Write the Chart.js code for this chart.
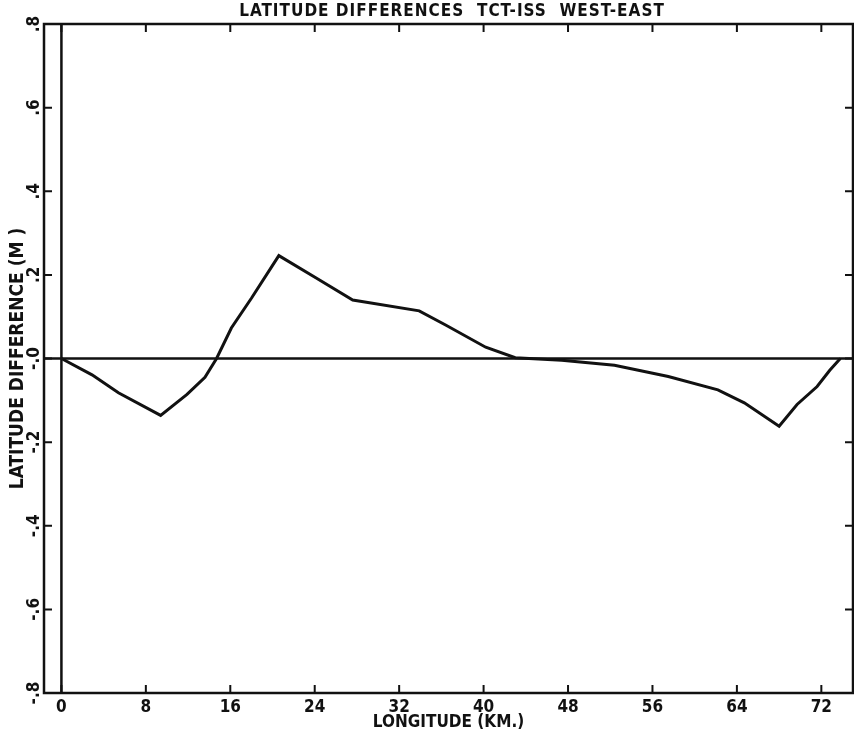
<!DOCTYPE html>
<html>
<head>
<meta charset="utf-8">
<script src="https://cdn.jsdelivr.net/npm/chart.js@4/dist/chart.umd.min.js"></script>
<style>
  html, body { margin: 0; padding: 0; background: #fff; }
  #wrap { width: 854px; height: 734px; }
</style>
</head>
<body>
<div id="wrap"><canvas id="canvas" width="854" height="734"></canvas></div>
<script>
const ctx = document.getElementById("canvas").getContext("2d");

// longitude (km) and latitude difference (m)
const longitude = [0, 2.9, 5.4, 9.4, 11.9, 13.6, 14.7, 16.1, 18.0, 20.6, 24.1, 27.6, 33.9, 36.4, 40.2, 43.0,
  47.4, 52.4, 57.5, 62.2, 64.7, 68.0, 69.7, 71.6, 72.8, 73.8];
const latDiff = [0, -0.039, -0.082, -0.136, -0.086, -0.045, 0, 0.073, 0.144, 0.246, 0.193, 0.140, 0.114, 0.080, 0.027, 0.002,
  -0.004, -0.016, -0.043, -0.075, -0.106, -0.162, -0.110, -0.067, -0.028, 0];

const xTicks = [0, 8, 16, 24, 32, 40, 48, 56, 64, 72];
const yTicks = [0.8, 0.6, 0.4, 0.2, 0, -0.2, -0.4, -0.6, -0.8];
const yTickLabels = [".8", ".6", ".4", ".2", "-.0", "-.2", "-.4", "-.6", "-.8"];

const titleText = "LATITUDE DIFFERENCES  TCT-ISS  WEST-EAST";
const xTitle = "LONGITUDE (KM.)";
const yTitle = "LATITUDE DIFFERENCE (M )";

const FONT = "'Liberation Sans Narrow', 'DejaVu Sans Condensed', sans-serif";
const INK = "#111";

// frame, inward tick marks, zero lines and title
const framePlugin = {
  id: "frame",
  afterDraw: (chart) => {
    const c = chart.ctx;
    const a = chart.chartArea;
    const xs = chart.scales.x;
    const ys = chart.scales.y;
    c.save();
    c.strokeStyle = INK;
    c.lineWidth = 2.5;
    c.strokeRect(a.left, a.top, a.right - a.left, a.bottom - a.top);

    // zero lines
    const x0 = xs.getPixelForValue(0);
    const y0 = ys.getPixelForValue(0);
    c.beginPath();
    c.moveTo(x0, a.top); c.lineTo(x0, a.bottom);
    c.moveTo(a.left, y0); c.lineTo(a.right, y0);
    c.stroke();

    // inward ticks
    c.lineWidth = 2;
    c.beginPath();
    xTicks.forEach(v => {
      const px = xs.getPixelForValue(v);
      c.moveTo(px, a.top); c.lineTo(px, a.top + 8);
      c.moveTo(px, a.bottom); c.lineTo(px, a.bottom - 8);
    });
    yTicks.forEach(v => {
      const py = ys.getPixelForValue(v);
      c.moveTo(a.left, py); c.lineTo(a.left + 8, py);
      c.moveTo(a.right, py); c.lineTo(a.right - 8, py);
    });
    c.stroke();

    // title
    c.fillStyle = INK;
    c.font = "bold 17px " + FONT;
    c.letterSpacing = "1px";
    c.textAlign = "center";
    c.textBaseline = "middle";
    c.fillText(titleText, 452, 12);
    c.restore();
  }
};

const chart = new Chart(ctx, {
  type: "line",
  data: {
    datasets: [{
      data: longitude.map((x, i) => ({ x: x, y: latDiff[i] })),
      borderColor: INK,
      borderWidth: 3,
      pointRadius: 0,
      tension: 0,
      fill: false
    }]
  },
  options: {
    responsive: false,
    animation: false,
    devicePixelRatio: 1,
    layout: { padding: { top: 24, right: 1, left: 0, bottom: 0 } },
    plugins: {
      legend: { display: false },
      tooltip: { enabled: false },
      title: { display: false }
    },
    scales: {
      x: {
        type: "linear",
        min: -1.65,
        max: 75,
        afterBuildTicks: (s) => { s.ticks = xTicks.map(v => ({ value: v })); },
        afterFit: (s) => { s.height = 41; },
        grid: { display: false, drawTicks: false },
        border: { display: false },
        ticks: {
          color: INK,
          padding: 6,
          maxRotation: 0,
          autoSkip: false,
          font: { family: FONT, size: 17, weight: "bold", lineHeight: 1 },
          callback: (v) => String(v)
        },
        title: {
          display: true,
          text: xTitle,
          color: INK,
          padding: { top: -4, bottom: 3 },
          font: { family: FONT, size: 17, weight: "bold", lineHeight: 1 }
        }
      },
      y: {
        type: "linear",
        min: -0.8,
        max: 0.8,
        afterBuildTicks: (s) => { s.ticks = yTicks.map(v => ({ value: v })); },
        afterFit: (s) => { s.width = 44; },
        grid: { display: false, drawTicks: false },
        border: { display: false },
        ticks: {
          color: INK,
          padding: -2,
          minRotation: 90,
          maxRotation: 90,
          crossAlign: "center",
          autoSkip: false,
          font: { family: FONT, size: 17, weight: "bold" },
          callback: (v) => yTickLabels[yTicks.indexOf(v)]
        },
        title: {
          display: true,
          text: yTitle,
          color: INK,
          padding: { top: 9, bottom: 0 },
          font: { family: FONT, size: 19, weight: "bold", lineHeight: 1 }
        }
      }
    }
  },
  plugins: [framePlugin]
});
</script>
</body>
</html>
